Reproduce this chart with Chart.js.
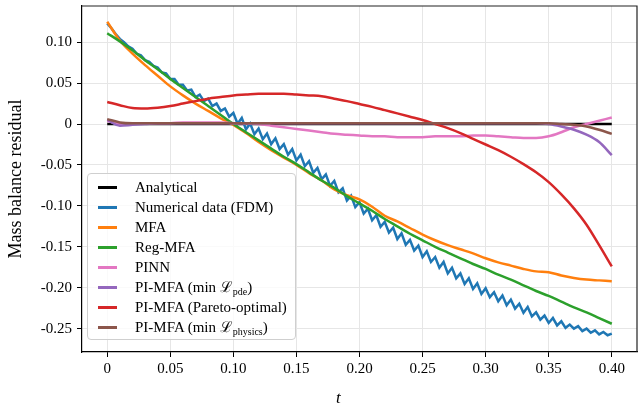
<!DOCTYPE html>
<html>
<head>
<meta charset="utf-8">
<script src="https://cdn.jsdelivr.net/npm/chart.js@4.4.1/dist/chart.umd.min.js"></script>
<style>
    html, body { margin: 0; padding: 0; background: #fff; }
    #wrap { position: relative; width: 644px; height: 410px; font-family: "Liberation Serif", "DejaVu Serif", serif; color: #000; }
    #chart { position: absolute; left: 0; top: 0; }
    .legend { position: absolute; left: 87px; top: 173px; width: 207px; height: 165px; border: 1px solid #cfcfcf; border-radius: 4px; background: rgba(255,255,255,0.8); }
    .row { position: absolute; left: 0; width: 205px; height: 20px; }
    .swatch { position: absolute; left: 10px; top: 9px; width: 19px; height: 3px; }
    .label { position: absolute; left: 47px; top: 0; font-size: 15px; line-height: 20px; white-space: nowrap; }
    .label sub { font-size: 10px; vertical-align: -3px; line-height: 0; }
    .xlabel { position: absolute; left: 336px; top: 388px; font-size: 17px; font-style: italic; }
</style>
</head>
<body>
<div id="wrap">
    <canvas id="chart" width="644" height="410"></canvas>
    <div class="legend" id="legend"></div>
    <div class="xlabel">t</div>
</div>
<script>
// time grid for the fitted curves
const tGrid = [0, 0.01, 0.02, 0.03, 0.04, 0.05, 0.06, 0.07, 0.08, 0.09,
    0.10, 0.11, 0.12, 0.13, 0.14, 0.15, 0.16, 0.17, 0.18, 0.19,
    0.20, 0.21, 0.22, 0.23, 0.24, 0.25, 0.26, 0.27, 0.28, 0.29,
    0.30, 0.31, 0.32, 0.33, 0.34, 0.35, 0.36, 0.37, 0.38, 0.39, 0.40];

const analyticalT = [0, 0.4];
const analytical = [0, 0];

// FDM residual, sampled every 1/300 in t (zigzag peaks/troughs)
const fdm = [0.123, 0.117, 0.110, 0.104, 0.100, 0.095, 0.092, 0.086, 0.084, 0.078,
    0.076, 0.071, 0.069, 0.063, 0.062, 0.055, 0.055, 0.048, 0.048, 0.041,
    0.042, 0.033, 0.036, 0.028, 0.031, 0.022, 0.025, 0.016, 0.019, 0.009,
    0.0135, 0.0005, 0.0075, -0.0065, 0.0005, -0.0125, -0.0055, -0.0185, -0.0115, -0.0245,
    -0.0175, -0.0305, -0.0245, -0.0375, -0.0305, -0.0445, -0.0375, -0.0515, -0.0455, -0.0595,
    -0.0535, -0.0675, -0.0615, -0.0755, -0.0695, -0.0835, -0.0785, -0.0935, -0.0875, -0.1015,
    -0.0955, -0.1095, -0.1035, -0.1175, -0.1115, -0.1255, -0.1195, -0.1325, -0.1265, -0.1405,
    -0.1335, -0.1475, -0.1415, -0.1545, -0.1485, -0.1625, -0.1555, -0.1685, -0.1625, -0.1755,
    -0.1685, -0.1825, -0.1755, -0.1885, -0.1825, -0.1955, -0.1885, -0.2015, -0.1945, -0.2075,
    -0.2005, -0.2115, -0.2055, -0.2165, -0.2095, -0.2215, -0.2145, -0.2255, -0.2195, -0.2305,
    -0.2235, -0.235, -0.230, -0.239, -0.234, -0.243, -0.237, -0.246, -0.241, -0.249,
    -0.245, -0.250, -0.247, -0.253, -0.250, -0.255, -0.252, -0.257, -0.254, -0.258,
    -0.256];
const fdmT = fdm.map((_, i) => i / 300);

const mfa = [0.125, 0.102, 0.086, 0.072, 0.059, 0.046, 0.035, 0.025, 0.016, 0.007,
    -0.001, -0.011, -0.022, -0.032, -0.041, -0.050, -0.060, -0.069, -0.080, -0.087,
    -0.092, -0.101, -0.112, -0.119, -0.127, -0.135, -0.142, -0.148, -0.153, -0.158,
    -0.164, -0.169, -0.173, -0.177, -0.180, -0.181, -0.185, -0.188, -0.190, -0.191, -0.192];

const regMfa = [0.111, 0.101, 0.090, 0.078, 0.067, 0.055, 0.044, 0.033, 0.022, 0.011,
    0.000, -0.010, -0.020, -0.030, -0.040, -0.049, -0.059, -0.069, -0.078, -0.088,
    -0.097, -0.106, -0.116, -0.125, -0.134, -0.142, -0.150, -0.157, -0.164, -0.171,
    -0.177, -0.184, -0.190, -0.197, -0.204, -0.210, -0.217, -0.224, -0.230, -0.237, -0.244];

const pinn = [0.004, 0.000, 0.001, 0.001, 0.001, 0.001, 0.002, 0.002, 0.002, 0.002,
    0.001, 0.001, 0.000, -0.002, -0.004, -0.006, -0.008, -0.010, -0.012, -0.013,
    -0.014, -0.015, -0.015, -0.016, -0.016, -0.016, -0.015, -0.015, -0.015, -0.014,
    -0.014, -0.015, -0.016, -0.017, -0.017, -0.015, -0.010, -0.004, 0.000, 0.004, 0.008];

const piMfaPde = [0.005, -0.002, -0.001, 0.000, 0.001, 0.001, 0.001, 0.001, 0.001, 0.001,
    0.001, 0.001, 0.001, 0.001, 0.001, 0.001, 0.001, 0.001, 0.001, 0.001,
    0.001, 0.001, 0.001, 0.001, 0.001, 0.001, 0.001, 0.001, 0.001, 0.001,
    0.001, 0.001, 0.001, 0.001, 0.001, 0.000, -0.003, -0.007, -0.013, -0.022, -0.038];

const piMfaPareto = [0.027, 0.023, 0.0195, 0.019, 0.020, 0.022, 0.025, 0.028, 0.031, 0.033,
    0.035, 0.036, 0.037, 0.037, 0.037, 0.036, 0.035, 0.034, 0.031, 0.028,
    0.0245, 0.021, 0.017, 0.013, 0.009, 0.005, 0.000, -0.005, -0.011, -0.018,
    -0.025, -0.032, -0.040, -0.049, -0.059, -0.071, -0.086, -0.103, -0.123, -0.148, -0.174];

const piMfaPhysics = [0.006, 0.002, 0.001, 0.001, 0.001, 0.001, 0.001, 0.001, 0.001, 0.001,
    0.001, 0.001, 0.001, 0.001, 0.001, 0.001, 0.001, 0.001, 0.001, 0.001,
    0.001, 0.001, 0.001, 0.001, 0.001, 0.001, 0.001, 0.001, 0.001, 0.001,
    0.001, 0.001, 0.001, 0.001, 0.001, 0.001, 0.000, -0.001, -0.003, -0.007, -0.012];

const xTicks = [0, 0.05, 0.10, 0.15, 0.20, 0.25, 0.30, 0.35, 0.40];
const yTicks = [-0.25, -0.20, -0.15, -0.10, -0.05, 0, 0.05, 0.10];

const series = [
    { label: 'Analytical', html: 'Analytical', t: analyticalT, y: analytical, color: '#000000', smooth: false },
    { label: 'Numerical data (FDM)', html: 'Numerical data (FDM)', t: fdmT, y: fdm, color: '#1f77b4', smooth: false },
    { label: 'MFA', html: 'MFA', t: tGrid, y: mfa, color: '#ff7f0e', smooth: true },
    { label: 'Reg-MFA', html: 'Reg-MFA', t: tGrid, y: regMfa, color: '#2ca02c', smooth: true },
    { label: 'PINN', html: 'PINN', t: tGrid, y: pinn, color: '#e377c2', smooth: true },
    { label: 'PI-MFA (min Lpde)', html: 'PI-MFA\u2009(min \u2112<sub>pde</sub>)', t: tGrid, y: piMfaPde, color: '#9467bd', smooth: true },
    { label: 'PI-MFA (Pareto-optimal)', html: 'PI-MFA\u2009(Pareto-optimal)', t: tGrid, y: piMfaPareto, color: '#d62728', smooth: true },
    { label: 'PI-MFA (min Lphysics)', html: 'PI-MFA (min \u2112<sub>physics</sub>)', t: tGrid, y: piMfaPhysics, color: '#8c564b', smooth: true }
];

// HTML legend box in lower left of the axes
const legendEl = document.getElementById('legend');
series.forEach((s, i) => {
    const row = document.createElement('div');
    row.className = 'row';
    row.style.top = (3 + 20 * i) + 'px';
    row.innerHTML = `<div class="swatch" style="background:${s.color}"></div><div class="label">${s.html}</div>`;
    legendEl.appendChild(row);
});

const fmt = v => Math.abs(v) < 1e-9 ? '0' : v.toFixed(2);
const tickFont = { family: '"Liberation Serif", "DejaVu Serif", serif', size: 15 };

// top and right spines
const framePlugin = {
    id: 'frame',
    afterDraw(chart) {
        const { ctx, chartArea: a } = chart;
        ctx.save();
        ctx.strokeStyle = '#222';
        ctx.lineWidth = 1.2;
        ctx.beginPath();
        ctx.moveTo(a.left, a.top);
        ctx.lineTo(a.right, a.top);
        ctx.lineTo(a.right, a.bottom);
        ctx.stroke();
        ctx.restore();
    }
};

new Chart(document.getElementById('chart'), {
    type: 'line',
    data: {
        datasets: series.map((s, i) => ({
            label: s.label,
            data: s.y.map((v, k) => ({ x: s.t[k], y: v })),
            borderColor: s.color,
            backgroundColor: s.color,
            borderWidth: 2.5,
            pointRadius: 0,
            fill: false,
            cubicInterpolationMode: s.smooth ? 'monotone' : 'default',
            tension: 0,
            order: series.length - 1 - i
        }))
    },
    options: {
        responsive: false,
        animation: false,
        devicePixelRatio: 1,
        layout: { padding: { top: 6, right: 7, left: 0, bottom: 0 } },
        plugins: { legend: { display: false }, tooltip: { enabled: false } },
        scales: {
            x: {
                type: 'linear',
                min: -0.02,
                max: 0.42,
                afterBuildTicks: sc => { sc.ticks = xTicks.map(v => ({ value: v })); },
                afterFit: sc => { sc.height = 58; sc.paddingLeft = 0; sc.paddingRight = 0; },
                ticks: { callback: v => fmt(v), font: tickFont, color: '#000', padding: 3, maxRotation: 0 },
                grid: { color: '#e6e6e6', tickColor: '#000', tickLength: 5, lineWidth: 1 },
                border: { color: '#000', width: 1.2 }
            },
            y: {
                min: -0.2785,
                max: 0.1442,
                afterBuildTicks: sc => { sc.ticks = yTicks.map(v => ({ value: v })); },
                afterFit: sc => { sc.width = 82; sc.paddingTop = 0; sc.paddingBottom = 0; },
                ticks: { callback: v => fmt(v), font: tickFont, color: '#000', padding: 5 },
                grid: { color: '#e6e6e6', tickColor: '#000', tickLength: 5, lineWidth: 1 },
                border: { color: '#000', width: 1.2 },
                title: {
                    display: true,
                    text: 'Mass balance residual',
                    font: { family: '"Liberation Serif", "DejaVu Serif", serif', size: 18 },
                    color: '#000',
                    padding: { top: 5, bottom: 0 }
                }
            }
        }
    },
    plugins: [framePlugin]
});
</script>
</body>
</html>
